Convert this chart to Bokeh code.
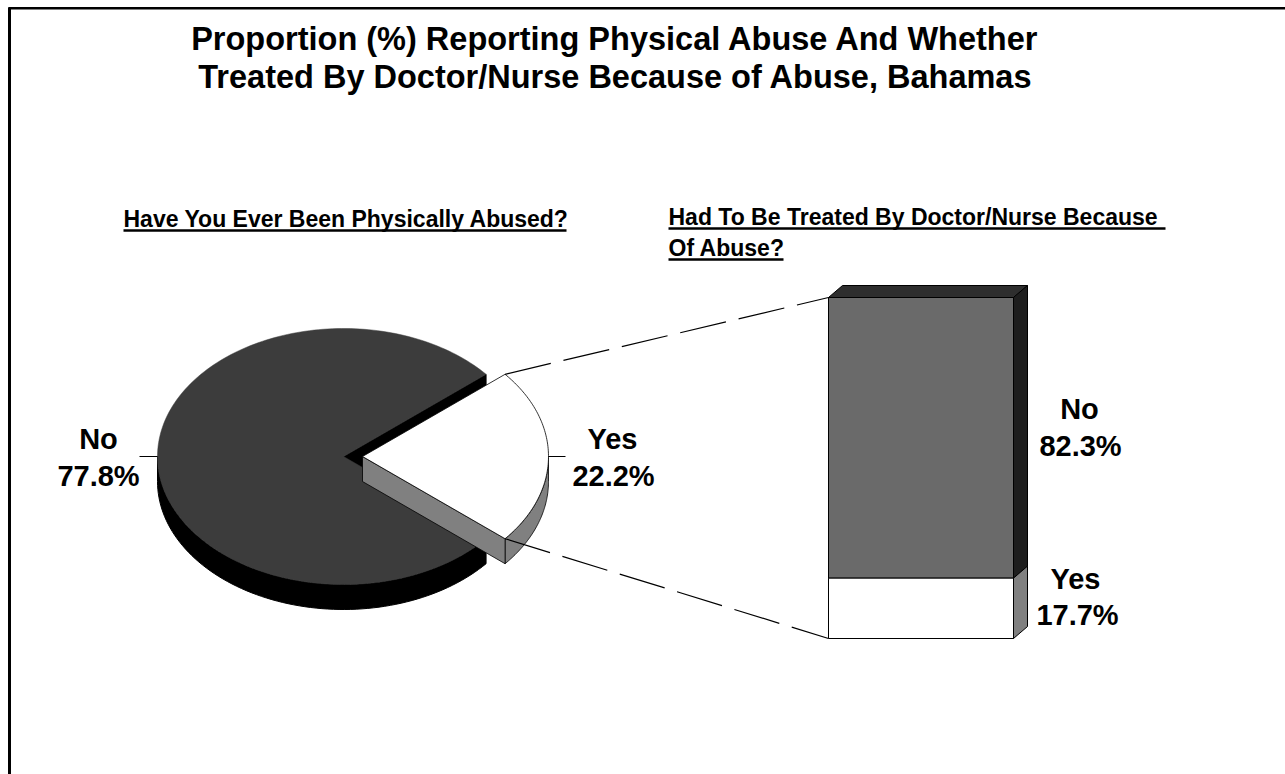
import numpy as np
from bokeh.plotting import figure
from bokeh.models import Range1d
from bokeh.core.properties import value
from bokeh.embed import file_html
from bokeh.resources import INLINE

# ---------------- data ----------------
title_lines = ["Proportion (%) Reporting Physical Abuse And Whether",
               "Treated By Doctor/Nurse Because of Abuse, Bahamas"]
pie_title = "Have You Ever Been Physically Abused?"
bar_title_lines = ["Had To Be Treated By Doctor/Nurse Because ", "Of Abuse?"]
pie_labels = ["No", "Yes"]
pie_values = [77.8, 22.2]
bar_labels = ["No", "Yes"]
bar_values = [82.3, 17.7]

# ---------------- layout constants ----------------
W, H = 1285, 774
FONT = value("Liberation Sans")
PCX, PCY = 343, 456        # pie centre (main slice)
RX, RY, DEPTH = 186, 128, 25
EXPLODE = 19
BAR_L, BAR_W, BAR_B, BAR_H = 828, 185, 638, 341
BDX, BDY = 14, -12

p = figure(width=W, height=H, x_range=Range1d(0, W), y_range=Range1d(H, 0),
           output_backend="svg", toolbar_location=None, min_border=0)
p.axis.visible = False
p.grid.visible = False
p.outline_line_color = None
p.background_fill_color = "white"
p.border_fill_color = "white"

# frame
p.line([9, 9], [7, H], line_color="black", line_width=3)
p.line([8, W], [7.7, 7.7], line_color="black", line_width=2.5)


def arc(cx, cy, a0, a1, dy=0, n=80):
    t = np.radians(np.linspace(a0, a1, n))
    return list(cx + RX * np.cos(t)), list(cy - RY * np.sin(t) + dy)


def wall(cx, cy, a0, a1):
    xs, ys = arc(cx, cy, a0, a1)
    xb, yb = arc(cx, cy, a0, a1, DEPTH)
    return xs + xb[::-1], ys + yb[::-1]


# pie angles: Yes slice centred on 0 degrees
yes_sweep = pie_values[1] / sum(pie_values) * 360.0
ya0, ya1 = -yes_sweep / 2, yes_sweep / 2
ma0, ma1 = ya1, 360 + ya0

# main ("No") slice
vis0 = max(ma0, 180)
xs, ys = wall(PCX, PCY, vis0, ma1)
p.patch(xs, ys, fill_color="black", line_color="black", line_width=1)
ex, ey = arc(PCX, PCY, ma0, ma0, n=1)
p.patch([PCX, ex[0], ex[0], PCX], [PCY, ey[0], ey[0] + DEPTH, PCY + DEPTH],
        fill_color="black", line_color="black", line_width=1)
ax, ay = arc(PCX, PCY, ma0, ma1, n=200)
p.patch([PCX] + ax, [PCY] + ay, fill_color="#3c3c3c", line_color="#3c3c3c", line_width=0.5)

# exploded "Yes" slice
YCX, YCY = PCX + EXPLODE, PCY
xs, ys = wall(YCX, YCY, ya0, min(ya1, 0))
p.patch(xs, ys, fill_color="#808080", line_color="black", line_width=0.8)
sx, sy = arc(YCX, YCY, ya0, ya0, n=1)
p.patch([YCX, sx[0], sx[0], YCX], [YCY, sy[0], sy[0] + DEPTH, YCY + DEPTH],
        fill_color="#808080", line_color="black", line_width=0.8)
ax, ay = arc(YCX, YCY, ya0, ya1, n=100)
p.patch([YCX] + ax, [YCY] + ay, fill_color="white", line_color="black", line_width=0.8)

# stacked bar
scale = BAR_H / sum(bar_values)
yes_top = BAR_B - bar_values[1] * scale
no_top = yes_top - bar_values[0] * scale
R = BAR_L + BAR_W
p.quad(left=[BAR_L], right=[R], top=[no_top], bottom=[yes_top],
       fill_color="#6a6a6a", line_color="black", line_width=1)
p.quad(left=[BAR_L], right=[R], top=[yes_top], bottom=[BAR_B],
       fill_color="white", line_color="black", line_width=1)
p.patch([BAR_L, R, R + BDX, BAR_L + BDX], [no_top, no_top, no_top + BDY, no_top + BDY],
        fill_color="#2e2e2e", line_color="black", line_width=1)
p.patch([R, R + BDX, R + BDX, R], [no_top, no_top + BDY, yes_top + BDY, yes_top],
        fill_color="#1e1e1e", line_color="black", line_width=1)
p.patch([R, R + BDX, R + BDX, R], [yes_top, yes_top + BDY, BAR_B + BDY, BAR_B],
        fill_color="#808080", line_color="black", line_width=1)

# connector dashed lines
tx, ty = arc(YCX, YCY, ya1, ya1, n=1)
bx, by = arc(YCX, YCY, ya0, ya0, n=1)
p.line([tx[0], BAR_L], [ty[0], no_top], line_color="black", line_width=1.2, line_dash="47 13")
p.line([bx[0], BAR_L], [by[0], BAR_B], line_color="black", line_width=1.2, line_dash="47 13")

# label leader ticks
p.line([139, PCX - RX], [PCY, PCY], line_color="black", line_width=1)
p.line([YCX + RX, 565], [YCY, YCY], line_color="black", line_width=1)

# texts
def txt(x, y, s, size, align="center"):
    p.text(x=[x], y=[y], text=[s], text_font=FONT, text_font_style="bold",
           text_font_size=f"{size}px", text_align=align, text_baseline="middle",
           text_color="black")

txt(615, 38, title_lines[0], 32.5)
txt(615, 76, title_lines[1], 32.5)

txt(123, 218, pie_title, 23, "left")
p.line([123, 566], [230, 230], line_color="black", line_width=2.5)
txt(668, 216, bar_title_lines[0], 23, "left")
p.line([668, 1165], [228, 228], line_color="black", line_width=2.5)
txt(668, 247, bar_title_lines[1], 23, "left")
p.line([668, 783], [259, 259], line_color="black", line_width=2.5)

txt(98, 438, pie_labels[0], 29)
txt(98, 475, f"{pie_values[0]}%", 29)
txt(612, 438, pie_labels[1], 29)
txt(613, 475, f"{pie_values[1]}%", 29)

txt(1079, 408, bar_labels[0], 29)
txt(1080, 445, f"{bar_values[0]}%", 29)
txt(1075, 578, bar_labels[1], 29)
txt(1077, 614, f"{bar_values[1]}%", 29)

open("out.html", "w").write(file_html(p, INLINE))
